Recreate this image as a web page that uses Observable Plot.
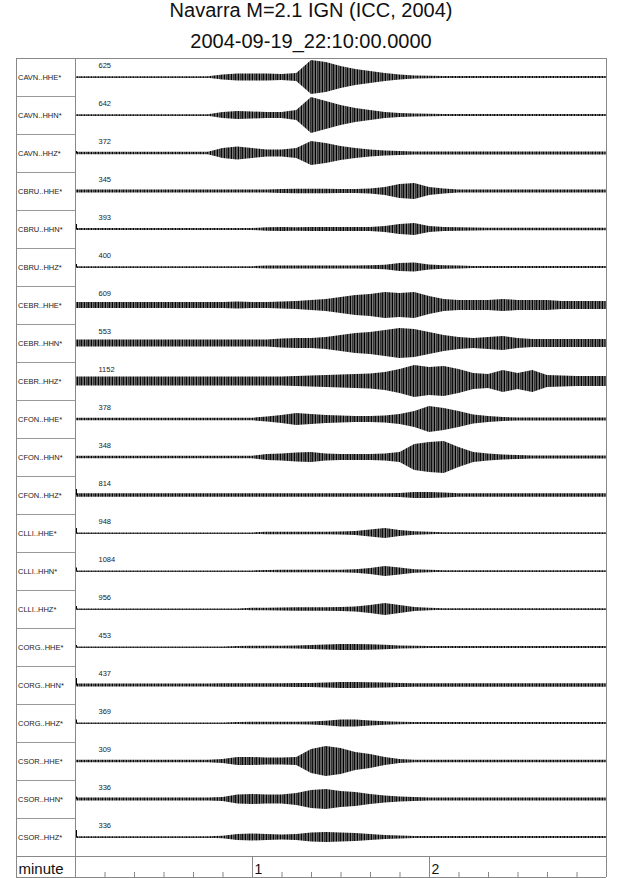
<!DOCTYPE html>
<html>
<head>
<meta charset="utf-8">
<script src="https://cdn.jsdelivr.net/npm/d3@7"></script>
<script src="https://cdn.jsdelivr.net/npm/@observablehq/plot@0.6"></script>
<style>
  body { margin: 0; padding: 0; background: #fff; font-family: "Liberation Sans", Arial, Helvetica, sans-serif; }
  .head { position: relative; height: 57px; width: 640px; }
  .head div { position: absolute; left: 0; width: 622px; text-align: center; font-size: 20px; color: #111; }
</style>
</head>
<body>
<div class="head">
  <div style="top:-1px">Navarra M=2.1 IGN (ICC, 2004)</div>
  <div style="top:30px">2004-09-19_22:10:00.0000</div>
</div>
<div id="chart"></div>
<script>
// channel names, top to bottom
const names = [
  "CAVN..HHE*", "CAVN..HHN*", "CAVN..HHZ*",
  "CBRU..HHE*", "CBRU..HHN*", "CBRU..HHZ*",
  "CEBR..HHE*", "CEBR..HHN*", "CEBR..HHZ*",
  "CFON..HHE*", "CFON..HHN*", "CFON..HHZ*",
  "CLLI..HHE*", "CLLI..HHN*", "CLLI..HHZ*",
  "CORG..HHE*", "CORG..HHN*", "CORG..HHZ*",
  "CSOR..HHE*", "CSOR..HHN*", "CSOR..HHZ*"
]
// max counts printed above each trace
const peaks = [625, 642, 372, 345, 393, 400, 609, 553, 1152, 378, 348, 814, 948, 1084, 956, 453, 437, 369, 309, 336, 336]

// envelope sample times (seconds after 22:10:00)
const seconds = [0, 5, 10, 15, 20, 25, 30, 35, 40, 45, 50, 55, 60, 65, 70, 75, 80, 85, 90, 95,
  100, 105, 110, 115, 120, 125, 130, 135, 140, 145, 150, 155, 160, 165, 170, 175, 180]

// half-amplitude of each trace (38 units = one row)
const cavnE = [0.8,0.8,0.8,0.8,0.8,0.8,0.8,0.8,0.8,0.8, 2.5,3.5,3.5,3.5,3, 4,17,15,11,8, 6,4,2.5,1.5,1.2, 1,1,1,1,1, 1,1,1,1,1, 1,1]
const cavnN = [0.7,0.7,0.7,0.7,0.7,0.7,0.7,0.7,0.7,0.7, 3,4,3.5,3,3, 5,18,14,10,7, 5,3,2,1.5,1.2, 1,1,1,1,1, 1,1,1,1,1, 1,1]
const cavnZ = [1.2,1.2,1.2,1.2,1.2,1.2,1.2,1.2,1.2,1.2, 5,6.5,5,3.5,3.5, 5,12,10,7,5, 3.5,2.5,2,1.5,1.5, 1.5,1.5,1.5,1.5,1.5, 1.5,1.5,1.5,1.5,1.5, 1.5,1.5]
const cbruE = [1.5,1.5,1.5,1.5,1.5,1.5,1.5,1.5,1.5,1.5, 1.5,1.5,1.5,1.5,2, 2.2,2.2,2.2,2,2, 2.5,4,7,8,4, 2.5,1.5,1.5,1.5,1.5, 1.5,1.5,1.5,1.5,1.5, 1.5,1.5]
const cbruN = [1,1,1,1,1,1,1,1,1,1, 1,1,1,1.8,2, 1.8,2,2,2,2, 2,3,5,6,3, 2,1.8,1.5,1.2,1.2, 1.2,1.2,1.2,1.2,1.2, 1.2,1.2]
const cbruZ = [0.8,0.8,0.8,0.8,0.8,0.8,0.8,0.8,0.8,0.8, 0.8,0.8,0.8,1.5,1.5, 1.5,1.5,1.5,1.5,1.5, 1.8,2.2,4,4.5,2.5, 1.8,1.5,1,1,1, 1,1,1,1,1, 1,1]
const cebrE = [3,3,3,3,3,3,3,3,3,3, 3,3.5,3,3,3.5, 4,5,6,8,10, 11,13,12,13,9, 6,5,5,5,6, 5,5,5,4,4, 4,4]
const cebrN = [3.5,3.5,3.5,3.5,3.5,3.5,3.5,3.5,3.5,3.5, 3.5,3.5,3.5,3.5,4.5, 5,5,6,8,10, 11,13,15,14,11, 8,6,5,6,7, 5,4,4,4,4, 4,4]
const cebrZ = [4.5,4.5,4.5,4.5,4.5,4.5,4.5,4.5,4.5,4.5, 4.5,4.5,4.5,4.5,4.5, 5,5.5,6,6.5,7, 7.5,9,12,16,14, 15,12,8,7,11, 8,11,6,5.5,5, 5,5]
const cfonE = [1.2,1.2,1.2,1.2,1.2,1.2,1.2,1.2,1.2,1.2, 1.2,1.2,1.2,2.5,4, 6,5,4,3.5,3, 3,3.5,5,8,13, 11,8,4.5,3,2, 1.5,1.5,1.5,1.5,1.5, 1.5,1.5]
const cfonN = [1.2,1.2,1.2,1.2,1.2,1.2,1.2,1.2,1.2,1.2, 1.2,1.2,1.2,3,3.5, 4.5,5,3.5,3,3, 3,3.5,5,13,15, 16,10,5,3.5,2.5, 2,1.5,1.5,1.5,1.5, 1.5,1.5]
const cfonZ = [1.7,1.7,1.7,1.7,1.7,1.7,1.7,1.7,1.7,1.7, 1.7,1.7,1.7,1.7,1.7, 1.7,1.7,1.7,1.7,1.7, 1.7,1.7,2,3,3, 2.5,1.7,1.7,1.7,1.7, 1.7,1.7,1.7,1.7,1.7, 1.7,1.7]
const clliE = [0.6,0.6,0.6,0.6,0.6,0.6,0.6,0.6,0.6,0.6, 0.6,0.6,0.6,1.2,1.3, 1.3,1.3,1.3,1.5,2, 3.5,5,3,1.8,1.3, 0.8,0.8,0.8,0.8,0.8, 0.8,0.8,0.8,0.8,0.8, 0.8,0.8]
const clliN = [0.6,0.6,0.6,0.6,0.6,0.6,0.6,0.6,0.6,0.6, 0.6,0.6,0.6,1,1.2, 1.2,1.2,1.2,1.3,1.8, 3,5,3.5,1.8,1.2, 0.8,0.8,0.8,0.8,0.8, 0.8,0.8,0.8,0.8,0.8, 0.8,0.8]
const clliZ = [0.6,0.6,0.6,0.6,0.6,0.6,0.6,0.6,0.6,0.6, 0.6,0.6,1.2,1.2,1.5, 1.8,1.8,1.8,2,2.5, 4,6,4,2,1.3, 0.8,0.8,0.8,0.8,0.8, 0.8,0.8,0.8,0.8,0.8, 0.8,0.8]
const corgE = [0.6,0.6,0.6,0.6,0.6,0.6,0.6,0.6,0.6,0.6, 0.6,1,1.2,1.2,1.3, 1.5,2,2.5,3,3, 2.8,2.2,1.5,1.2,1, 1,1,1,1,1, 1,1,1,1,1, 1,1]
const corgN = [1.5,1.5,1.5,1.5,1.5,1.5,1.5,1.5,1.5,1.5, 1.7,1.8,1.8,1.8,1.8, 2,2,2.5,3,3, 2.8,2.5,2,1.8,1.8, 1.8,1.8,1.8,1.8,1.8, 1.8,1.8,1.8,1.8,1.8, 1.8,1.8]
const corgZ = [0.6,0.6,0.6,0.6,0.6,0.6,0.6,0.6,0.6,0.6, 0.6,1,1.2,1.2,1.2, 1.3,1.5,2.2,3.5,3.5, 2.5,1.8,1.3,1,1, 1,1,1,1,1, 1,1,1,1,1, 1,1]
const csorE = [1.2,1.2,1.2,1.2,1.2,1.2,1.2,1.2,1.2,1.2, 2,4,4,3.5,3.5, 4,12,15,13,9, 7,4,2,1.3,1.3, 1.3,1.3,1.3,1.3,1.3, 1.3,1.3,1.3,1.3,1.3, 1.3,1.3]
const csorN = [1.5,1.5,1.5,1.5,1.5,1.5,1.5,1.5,1.5,1.5, 2,4.5,5,4.5,4.5, 6,9,10,8,7, 5,3.5,2.5,2,1.6, 1.6,1.6,1.6,1.6,1.6, 1.6,1.6,1.6,1.6,1.6, 1.6,1.6]
const csorZ = [0.8,0.8,0.8,0.8,0.8,0.8,0.8,0.8,0.8,0.8, 1.2,3,3.5,3,2.5, 3,4.5,5,4.5,4, 3,2,1.5,1,1, 1,1,1,1,1, 1,1,1,1,1, 1,1]

// short transient at the very start of some records
const startSpike = [0, 0, 2, 0, 5, 3, 0, 0, 0, 0, 0, 6, 5, 3.5, 3, 2, 7, 3.5, 0, 2.5, 7]

// bottom axis
const minuteTicks = [1, 2]
const minuteLabels = ["1", "2"]
const tenSecondTicks = [10, 20, 30, 40, 50, 70, 80, 90, 100, 110, 130, 140, 150, 160, 170]

const envelopes = [cavnE, cavnN, cavnZ, cbruE, cbruN, cbruZ, cebrE, cebrN, cebrZ,
  cfonE, cfonN, cfonZ, clliE, clliN, clliZ, corgE, corgN, corgZ, csorE, csorN, csorZ]

const rowUnit = 38           // amplitude units per row
const n = names.length
const axisRow = 21 / 38      // height of the "minute" strip, in rows
const yEnd = n + axisRow
const xStart = -1 / 3        // label column, in minutes left of zero

const table = names.flatMap((name, i) => envelopes[i].map((a, j) => ({
  name, t: seconds[j] / 60, lo: i + 0.5 - a / rowUnit, hi: i + 0.5 + a / rowUnit
})))

const spikes = startSpike.map((s, i) => ({i, s})).filter(d => d.s > 0)

const chart = Plot.plot({
  width: 640,
  height: 821,
  marginTop: 1,
  marginBottom: 1,
  marginLeft: 16,
  marginRight: 34,
  style: {fontFamily: "'Liberation Sans', Arial, Helvetica, sans-serif", background: "#fff"},
  x: {domain: [xStart, 3], axis: null},
  y: {domain: [0, yEnd], reverse: true, axis: null},
  marks: [
    // traces: envelope filled with an uneven vertical hatch so it reads like dense wiggles
    Plot.ruleY(names, {y: (d, i) => i + 0.5, x1: 0, x2: 3, stroke: "#000", strokeWidth: 0.8}),
    Plot.areaY(table, {x: "t", y1: "lo", y2: "hi", z: "name", fill: "url(#wiggle)", curve: "linear"}),
    Plot.ruleX(spikes, {x: 0, y1: d => d.i + 0.5, y2: d => d.i + 0.5 - d.s / rowUnit, dx: 1, stroke: "#000"}),
    // labels
    Plot.text(names, {x: xStart, y: (d, i) => i + 0.5, text: d => d, textAnchor: "start", dx: 1.5, fontSize: 7.5, fill: "#222"}),
    Plot.text(peaks, {x: 0, y: (d, i) => i, text: d => String(d), textAnchor: "start", dx: 23, dy: 7, fontSize: 7.5, fill: "#222"}),
    // frame
    Plot.ruleY(d3.range(1, n), {x1: xStart, x2: 0, stroke: "#999"}),
    Plot.ruleY([0, n, yEnd], {x1: xStart, x2: 3, stroke: "#888"}),
    Plot.ruleX([xStart, 0, 3], {y1: 0, y2: yEnd, stroke: "#888"}),
    // time axis
    Plot.ruleX(tenSecondTicks, {x: d => d / 60, y1: yEnd - 5 / rowUnit, y2: yEnd, stroke: "#888"}),
    Plot.ruleX(minuteTicks, {y1: n, y2: yEnd, stroke: "#888"}),
    Plot.text(minuteTicks, {x: d => d, y: yEnd, text: (d, i) => minuteLabels[i], textAnchor: "start", lineAnchor: "bottom", dx: 2, dy: -4, fontSize: 14, fill: "#111"}),
    Plot.text(["minute"], {x: xStart, y: yEnd, text: d => d, textAnchor: "start", lineAnchor: "bottom", dx: 2, dy: -4, fontSize: 15, fill: "#111"})
  ]
})

// uneven hatch used as the trace fill
d3.select(chart).insert("defs", ":first-child").html(
  `<pattern id="wiggle" patternUnits="userSpaceOnUse" width="7" height="40">
     <rect width="7" height="40" fill="#8a8a8a"/>
     <rect x="0" width="1.1" height="40" fill="#000"/>
     <rect x="2.1" width="0.7" height="40" fill="#111"/>
     <rect x="3.6" width="1.3" height="40" fill="#000"/>
     <rect x="5.6" width="0.8" height="40" fill="#222"/>
   </pattern>`)

document.querySelector("#chart").append(chart)
</script>
</body>
</html>
